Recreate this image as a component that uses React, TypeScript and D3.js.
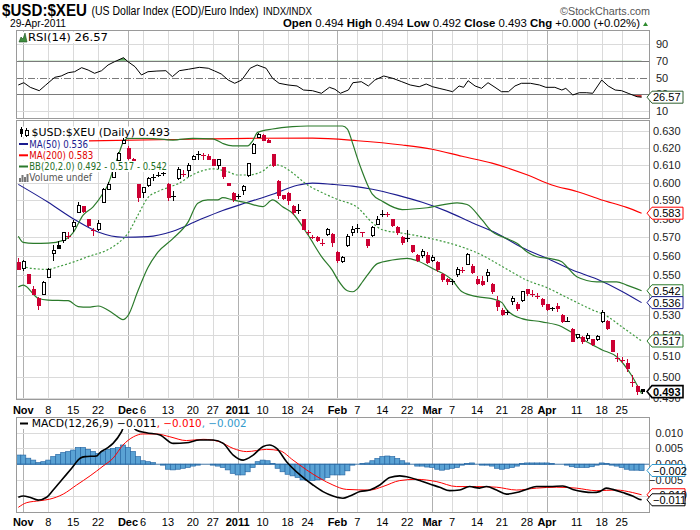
import * as d3 from 'd3'

type Pt = [number, number]

// ---- price bars, Oct 29 2010 .. Apr 29 2011 (one entry per trading day) ----
const priorClose = 0.5578

const opens = [
  0.5565, 0.5535, 0.5501, 0.5428, 0.5382, 0.5402, 0.5487, 0.5614, 0.5654, 0.5681,
  0.5707, 0.5757, 0.5835, 0.5866, 0.5793, 0.5737, 0.5744, 0.589, 0.5964, 0.6028,
  0.6128, 0.6226, 0.6197, 0.613, 0.5987, 0.5944, 0.5985, 0.6028, 0.604, 0.605,
  0.5992, 0.5925, 0.6026, 0.6052, 0.6067, 0.6133, 0.616, 0.6162, 0.615, 0.613,
  0.61, 0.6084, 0.5996, 0.5939, 0.592, 0.5955, 0.6039, 0.6168, 0.6261, 0.6274,
  0.6245, 0.6158, 0.6005, 0.5925, 0.5939, 0.5866, 0.5845, 0.5793, 0.5727, 0.5702,
  0.5698, 0.567, 0.5715, 0.5715, 0.5618, 0.557, 0.5655, 0.5725, 0.5745, 0.5728,
  0.5685, 0.5708, 0.577, 0.5826, 0.583, 0.5793, 0.5752, 0.57, 0.5695, 0.5655,
  0.5605, 0.5602, 0.5605, 0.5575, 0.5565, 0.5501, 0.5476, 0.547, 0.5506, 0.5528,
  0.5558, 0.5547, 0.5479, 0.5467, 0.5496, 0.5454, 0.5365, 0.532, 0.531, 0.5365,
  0.5353, 0.537, 0.5424, 0.5403, 0.5395, 0.5377, 0.535, 0.533, 0.534, 0.5298,
  0.5268, 0.5225, 0.5188, 0.5188, 0.5184, 0.5175, 0.5179, 0.5264, 0.5264, 0.5172,
  0.5088, 0.5081, 0.506, 0.4975, 0.4953, 0.494,
]
const highs = [
  0.5591, 0.5579, 0.5506, 0.5445, 0.539, 0.547, 0.5539, 0.5659, 0.5677, 0.573,
  0.5726, 0.5793, 0.589, 0.587, 0.5796, 0.5748, 0.5793, 0.5968, 0.6005, 0.6072,
  0.6177, 0.6255, 0.621, 0.614, 0.5992, 0.5977, 0.6032, 0.6049, 0.606, 0.6065,
  0.5998, 0.5955, 0.6091, 0.6072, 0.6113, 0.6158, 0.618, 0.6167, 0.6162, 0.6135,
  0.6137, 0.609, 0.6, 0.5945, 0.5935, 0.5987, 0.611, 0.6226, 0.6285, 0.628,
  0.6252, 0.6162, 0.6014, 0.5932, 0.5947, 0.5873, 0.5878, 0.5798, 0.574, 0.5712,
  0.5705, 0.569, 0.575, 0.572, 0.5625, 0.56, 0.5715, 0.576, 0.5772, 0.573,
  0.569, 0.576, 0.5815, 0.5848, 0.5838, 0.58, 0.576, 0.5705, 0.574, 0.566,
  0.561, 0.5635, 0.562, 0.5603, 0.5574, 0.551, 0.5485, 0.5478, 0.5544, 0.554,
  0.5614, 0.556, 0.5495, 0.5495, 0.553, 0.546, 0.5395, 0.5335, 0.5325, 0.5395,
  0.5362, 0.542, 0.543, 0.5425, 0.541, 0.5385, 0.5355, 0.534, 0.536, 0.5305,
  0.529, 0.5234, 0.5205, 0.5195, 0.521, 0.518, 0.52, 0.5325, 0.5275, 0.5175,
  0.511, 0.5092, 0.5085, 0.5008, 0.496, 0.494,
]
const lows = [
  0.553, 0.5524, 0.5454, 0.5399, 0.5323, 0.5399, 0.5484, 0.5574, 0.5637, 0.5668,
  0.569, 0.573, 0.583, 0.583, 0.5757, 0.5708, 0.5735, 0.5885, 0.5959, 0.6024,
  0.6123, 0.622, 0.6131, 0.608, 0.5894, 0.5916, 0.5973, 0.6009, 0.603, 0.604,
  0.5897, 0.5897, 0.6017, 0.6033, 0.6033, 0.613, 0.613, 0.613, 0.6128, 0.6093,
  0.608, 0.602, 0.598, 0.589, 0.591, 0.5933, 0.6033, 0.6162, 0.6255, 0.624,
  0.6226, 0.609, 0.5911, 0.5905, 0.5875, 0.582, 0.5825, 0.5738, 0.5712, 0.569,
  0.5675, 0.5655, 0.5705, 0.565, 0.5565, 0.5562, 0.565, 0.5706, 0.5722, 0.57,
  0.5645, 0.57, 0.5765, 0.5808, 0.581, 0.5755, 0.5712, 0.566, 0.5676, 0.5615,
  0.557, 0.5591, 0.556, 0.557, 0.5518, 0.5465, 0.545, 0.545, 0.549, 0.551,
  0.5552, 0.5505, 0.545, 0.5445, 0.5465, 0.5405, 0.532, 0.5295, 0.53, 0.535,
  0.532, 0.5365, 0.5395, 0.539, 0.538, 0.534, 0.532, 0.5318, 0.5315, 0.526,
  0.5265, 0.5165, 0.518, 0.5155, 0.517, 0.5145, 0.517, 0.5258, 0.5225, 0.5115,
  0.507, 0.5065, 0.502, 0.495, 0.4915, 0.492,
]
const closes = [
  0.5532, 0.557, 0.5459, 0.5402, 0.5348, 0.5462, 0.5532, 0.5627, 0.5641, 0.5724,
  0.5704, 0.5781, 0.5875, 0.5842, 0.5762, 0.5735, 0.5775, 0.5963, 0.5991, 0.6062,
  0.6167, 0.6245, 0.614, 0.609, 0.5916, 0.5971, 0.6025, 0.603, 0.6045, 0.6055,
  0.5914, 0.593, 0.6077, 0.605, 0.61, 0.6148, 0.6162, 0.6159, 0.6133, 0.61,
  0.6134, 0.6033, 0.5983, 0.5905, 0.5925, 0.5978, 0.6106, 0.622, 0.6279, 0.6245,
  0.6232, 0.6096, 0.5926, 0.5913, 0.5899, 0.5835, 0.585, 0.5744, 0.5725, 0.57,
  0.5682, 0.5667, 0.5742, 0.5672, 0.5574, 0.5593, 0.5706, 0.5743, 0.575, 0.5726,
  0.5655, 0.5753, 0.5793, 0.583, 0.5826, 0.5765, 0.5726, 0.5672, 0.5698, 0.5626,
  0.5579, 0.5623, 0.5566, 0.5593, 0.5527, 0.5476, 0.5467, 0.5472, 0.5532, 0.5524,
  0.5609, 0.5516, 0.5459, 0.5451, 0.5513, 0.5415, 0.534, 0.5302, 0.5313, 0.5382,
  0.5331, 0.5415, 0.5404, 0.5402, 0.5392, 0.5352, 0.5325, 0.5334, 0.5332, 0.5264,
  0.527, 0.517, 0.5201, 0.5168, 0.5196, 0.5151, 0.5191, 0.5309, 0.5232, 0.5119,
  0.5086, 0.5078, 0.5036, 0.4972, 0.4929, 0.493,
]

// ---- overlays: [bar index, value] ----
const ma50: Pt[] = [
  [0, 0.599], [6, 0.589], [11, 0.58], [16, 0.5728], [21, 0.57], [26, 0.5703], [31, 0.5732],
  [36, 0.579], [41, 0.5845], [46, 0.589], [51, 0.5935], [56, 0.5985], [59, 0.5997], [63, 0.599],
  [67, 0.598], [71, 0.5963], [76, 0.593], [81, 0.589], [86, 0.584], [91, 0.5778], [96, 0.572],
  [101, 0.5645], [106, 0.5588], [111, 0.5528], [116, 0.548], [121, 0.5418], [125, 0.536],
]
const ma200: Pt[] = [
  [14, 0.624], [31, 0.6248], [46, 0.6255], [59, 0.6256], [68, 0.6241], [77, 0.6216], [83, 0.6191],
  [89, 0.615], [95, 0.6111], [102, 0.6044], [107, 0.5987], [112, 0.595], [117, 0.5903],
  [122, 0.5862], [125, 0.583],
]
const bbUpper: Pt[] = [
  [0, 0.5705], [1, 0.5672], [3, 0.5667], [6, 0.5668], [9, 0.5683], [11, 0.5725], [13, 0.582],
  [15, 0.5865], [17, 0.594], [18, 0.599], [19, 0.607], [20, 0.615], [21, 0.623], [22, 0.6255],
  [26, 0.6255], [31, 0.6245], [35, 0.6255], [39, 0.6252], [41, 0.6225], [43, 0.6211], [46, 0.6211],
  [47, 0.624], [48, 0.629], [51, 0.631], [55, 0.6324], [58, 0.6328], [65, 0.6328], [66, 0.631],
  [67, 0.623], [68, 0.614], [69, 0.606], [70, 0.599], [71, 0.5935], [73, 0.5896], [77, 0.585],
  [82, 0.586], [88, 0.5887], [90, 0.5878], [93, 0.5793], [95, 0.573], [97, 0.5703], [100, 0.5667],
  [102, 0.5623], [104, 0.5596], [107, 0.5585], [109, 0.557], [110, 0.5544], [112, 0.5492],
  [116, 0.5466], [120, 0.5466], [122, 0.5449], [125, 0.542],
]
const bbMiddle: Pt[] = [
  [0, 0.5555], [1, 0.5545], [4, 0.5532], [6, 0.553], [8, 0.5544], [11, 0.5568], [14, 0.5597],
  [18, 0.5634], [20, 0.5668], [22, 0.5721], [24, 0.582], [26, 0.5916], [28, 0.595], [30, 0.5972],
  [32, 0.5993], [35, 0.6045], [39, 0.6078], [42, 0.6062], [44, 0.6043], [46, 0.6043], [49, 0.6065],
  [51, 0.6104], [53, 0.6092], [55, 0.6055], [58, 0.5987], [61, 0.5943], [64, 0.5906], [68, 0.5862],
  [71, 0.5778], [73, 0.574], [77, 0.5722], [82, 0.5697], [88, 0.5656], [90, 0.5638], [92, 0.5617],
  [97, 0.5546], [102, 0.5474], [106, 0.5436], [110, 0.5386], [115, 0.5325], [118, 0.5293],
  [121, 0.524], [125, 0.517],
]
const bbLower: Pt[] = [
  [0, 0.544], [1, 0.5449], [4, 0.5382], [6, 0.5373], [10, 0.537], [12, 0.534], [14, 0.5337],
  [16, 0.5343], [19, 0.5306], [21, 0.5275], [22, 0.5295], [24, 0.542], [26, 0.554], [28, 0.562],
  [31, 0.5692], [34, 0.578], [36, 0.5885], [38, 0.5903], [40, 0.5903], [41, 0.5916], [43, 0.5903],
  [46, 0.5885], [49, 0.5866], [51, 0.5903], [53, 0.5866], [55, 0.583], [58, 0.5716], [61, 0.559],
  [63, 0.5525], [64, 0.548], [66, 0.542], [67, 0.5415], [68, 0.543], [69, 0.5465], [70, 0.55],
  [72, 0.556], [75, 0.5579], [78, 0.5588], [80, 0.5575], [83, 0.5536], [87, 0.5475], [89, 0.5415],
  [92, 0.539], [95, 0.538], [97, 0.536], [98, 0.5323], [101, 0.528], [105, 0.5264], [109, 0.524],
  [111, 0.5212], [114, 0.5166], [117, 0.5128], [120, 0.5094], [123, 0.5005], [125, 0.492],
]

const rsi14: Pt[] = [
  [0, 41.1], [1.1, 43.8], [2.4, 38.3], [4.2, 34.3], [5.5, 41], [7.3, 50.2], [8.6, 51.8], [10, 55.7],
  [11.3, 56.9], [12.7, 61.7], [14, 58.9], [15.3, 55], [16.7, 58.1], [18, 64.9], [19.3, 68.8],
  [21.1, 73.6], [22, 68.8], [23.4, 62.9], [24.7, 53], [26, 56.9], [27.8, 57.7], [29.6, 58.1],
  [30.9, 51], [32.3, 58.1], [34.1, 59.8], [36.3, 62.1], [38.1, 61], [39.4, 57.7], [40.7, 54.2],
  [42.1, 47], [43.4, 43.1], [44.8, 47], [46.5, 61], [47.9, 64.9], [49.7, 61], [51, 49], [52.3, 43.1],
  [54.1, 41.1], [55.9, 39.9], [57.2, 35.1], [59, 34.3], [60.8, 31.2], [62.4, 38.3], [63.5, 36],
  [64.6, 31.2], [66.2, 35.1], [67.1, 43.8], [68.8, 45], [70.2, 39.9], [71.5, 47], [73.3, 51.8],
  [75.1, 49], [76.9, 45], [78.6, 41.1], [80.4, 39], [81.8, 42.3], [83.1, 39], [84.4, 37.1],
  [85.8, 35.1], [87.1, 33.1], [88.4, 39.9], [89.3, 38.3], [90.2, 46.2], [91.6, 39.9], [92.9, 37.1],
  [94.2, 43.8], [95.6, 38.3], [96.9, 33.1], [98.3, 33.1], [99.6, 39.9], [100.9, 43.1], [102.7, 43.1],
  [104.5, 41.1], [105.8, 38.3], [107.6, 38.3], [109, 35.1], [109.8, 37.1], [111.2, 29.2],
  [112.5, 31.9], [113.9, 31.9], [115.2, 31.2], [117, 47], [118.3, 39.9], [119.7, 35.1], [121, 34.3],
  [122.3, 31.2], [124.1, 27.1], [125, 26.57],
]

const macdLine: Pt[] = [
  [0, -0.0105], [1, -0.0101], [2.3, -0.0105], [4, -0.0114], [5.7, -0.0105], [7, -0.0082],
  [8.7, -0.005], [10.7, -0.0013], [12.4, 0.0019], [13.4, 0.0024], [15.7, 0.0026], [16.4, 0.0037],
  [17.7, 0.005], [19, 0.0066], [20.7, 0.0103], [21.6, 0.0132], [22.6, 0.0125], [23.7, 0.0108],
  [25.7, 0.01], [28.4, 0.0093], [31.1, 0.0066], [33.7, 0.0068], [36.4, 0.0077], [39.1, 0.0077],
  [41.1, 0.0066], [43.1, 0.0029], [45.1, 0.0013], [47.1, 0.0029], [49.1, 0.0056], [50.4, 0.0061],
  [51.8, 0.005], [53.8, 0.0008], [56.5, -0.0034], [59.1, -0.0066], [61.1, -0.0087], [63.1, -0.0101],
  [65.1, -0.0108], [66.5, -0.0101], [68.5, -0.0087], [70.5, -0.0082], [72.5, -0.0066],
  [74.5, -0.0042], [76.5, -0.0037], [78.5, -0.0042], [80.5, -0.0052], [82.5, -0.0063],
  [84.5, -0.0073], [86.5, -0.0084], [88.5, -0.0082], [90.5, -0.0071], [92.5, -0.0076],
  [93.9, -0.0071], [95.9, -0.0082], [97.9, -0.0095], [99.9, -0.009], [101.9, -0.008],
  [103.9, -0.0071], [106.6, -0.0071], [109.2, -0.0069], [111.2, -0.008], [113.2, -0.0087],
  [115.2, -0.009], [116.6, -0.0087], [117.9, -0.0076], [119.2, -0.008], [121.2, -0.009],
  [123.2, -0.0101], [124.5, -0.0111], [125, -0.0113],
]
const macdSignal: Pt[] = [
  [0, -0.0137], [1.7, -0.0122], [4.3, -0.0116], [6.3, -0.0111], [9, -0.0095], [11.7, -0.0066],
  [14.4, -0.0037], [17, -0.0006], [19, 0.0019], [21, 0.0061], [23.1, 0.0087], [25, 0.0096],
  [27.7, 0.0096], [30.4, 0.0087], [33.7, 0.0075], [37.1, 0.0079], [40.4, 0.0071], [43.1, 0.005],
  [45.8, 0.004], [49.8, 0.0047], [52.4, 0.0043], [55.1, 0.0013], [57.8, -0.0018], [60.5, -0.0045],
  [63.1, -0.0066], [65.8, -0.008], [70.5, -0.0082], [73.1, -0.0071], [76.5, -0.0052],
  [79.8, -0.0048], [83.8, -0.0055], [87.9, -0.0071], [91.9, -0.0071], [95.9, -0.0073],
  [99.9, -0.0082], [103.9, -0.0076], [107.9, -0.0073], [111.9, -0.0076], [115.9, -0.0084],
  [119.9, -0.0082], [123.2, -0.009], [125, -0.0097],
]
const macdHist = [
  0.0029, 0.0029, 0.0019, 0.0013, 0.0005, 0.0008, 0.0013, 0.0024, 0.0031, 0.0037,
  0.004, 0.0045, 0.0053, 0.0053, 0.0047, 0.004, 0.0034, 0.004, 0.0047, 0.005,
  0.0053, 0.0061, 0.0053, 0.004, 0.0024, 0.0011, 0.0008, 0.0005, 0, -0.0003,
  -0.0016, -0.0018, -0.0016, -0.0013, -0.001, -0.0006, -0.0003, 0, 0, -0.0003,
  -0.0006, -0.001, -0.0018, -0.0029, -0.0034, -0.0034, -0.0024, -0.001, 0.0008, 0.0013,
  0.0011, 0.0002, -0.0013, -0.0024, -0.0032, -0.0037, -0.0042, -0.005, -0.0052, -0.0052,
  -0.005, -0.0048, -0.0042, -0.0034, -0.0034, -0.0034, -0.0021, -0.0003, 0, 0.0002,
  0.0004, 0.0011, 0.0018, 0.0024, 0.0026, 0.0024, 0.0018, 0.0011, 0.0004, 0,
  -0.0006, -0.0006, -0.0009, -0.001, -0.0016, -0.0019, -0.0016, -0.0013, -0.001, -0.0003,
  0.0002, 0.0004, 0, -0.0003, -0.0003, -0.0006, -0.0013, -0.0016, -0.0013, -0.001,
  -0.0006, 0.0002, 0.0004, 0.0004, 0.0004, 0.0004, 0.0004, 0.0002, 0, 0,
  -0.0003, -0.0008, -0.001, -0.001, -0.001, -0.0008, -0.0003, 0.0004, 0.0002, -0.0003,
  -0.0006, -0.001, -0.0016, -0.0019, -0.0019, -0.002,
]

// axis ticks: [bar index, label, month start]
const dateTicks: [number, string, boolean][] = [
  [1, 'Nov', true], [6, '8', false], [11, '15', false], [16, '22', false],
  [22, 'Dec', true], [25, '6', false], [30, '13', false], [35, '20', false], [39, '27', false],
  [44, '2011', true], [49, '10', false], [54, '18', false], [58, '24', false],
  [64, 'Feb', true], [68, '7', false], [73, '14', false], [78, '22', false],
  [83, 'Mar', true], [87, '7', false], [92, '14', false], [97, '21', false], [102, '28', false],
  [106, 'Apr', true], [112, '11', false], [117, '18', false], [121, '25', false],
]
const priceTicks = [0.49, 0.5, 0.51, 0.52, 0.53, 0.54, 0.55, 0.56, 0.57, 0.58, 0.59, 0.6, 0.61, 0.62, 0.63]
const rsiTicks = [10, 30, 50, 70, 90]
const macdTicks = [-0.01, -0.005, 0, 0.005, 0.01]

const LEFT = 16
const RIGHT = 650
const rsiPanel = { top: 30, bottom: 119 }
const mainPanel = { top: 120, bottom: 400 }
const macdPanel = { top: 417, bottom: 513 }

const RED = '#cc0033'
const GREEN = '#2b7a2b'
const NAVY = '#1c1c8f'
const AXIS_FONT = 'Liberation Sans, Arial, sans-serif'
const LEG_FONT = 'DejaVu Sans, Verdana, sans-serif'

const last = (a: Pt[]) => a[a.length - 1][1]
const f3 = d3.format('.3f')

function Tag({ y, text, color, bold, right = 683 }: { y: number; text: string; color: string; bold?: boolean; right?: number }) {
  const pts = [[647, y], [652, y - 6], [right, y - 6], [right, y + 6], [652, y + 6]]
  return (
    <g>
      <polygon points={pts.map(p => p.join(',')).join(' ')} fill="#fff" stroke={color} strokeWidth={bold ? 1.6 : 1} />
      <text x={653} y={y + 4} fontSize={11} fontFamily={AXIS_FONT} fontWeight={bold ? 700 : 400} fill="#000">{text}</text>
    </g>
  )
}

function LegendRow({ y, x0, width, text, color, icon }: { y: number; x0: number; width: number; text: string; color: string; icon: React.ReactNode }) {
  return (
    <g>
      <rect x={17} y={y - 5.5} width={x0 + width - 16} height={11} fill="#fff" />
      {icon}
      <text x={x0} y={y + 3.6} fontSize={10} fontFamily={LEG_FONT} fill={color} textLength={width} lengthAdjust="spacingAndGlyphs">{text}</text>
    </g>
  )
}

export default function App() {
  const x = d3.scaleLinear().domain([0, 125]).range([18.3, 641.6])
  const yP = d3.scaleLog().domain([0.63, 0.5]).range([130.7, 376.6])
  const yR = d3.scaleLinear().domain([30, 70]).range([94.3, 60.7])
  const yM = d3.scaleLinear().domain([0, 0.01]).range([464.2, 432.7])
  const px = (k: number) => Math.round(x(k)) + 0.5
  const hy = (v: number) => Math.round(v) + 0.5

  const priceLine = d3.line<Pt>().x(d => x(d[0])).y(d => yP(d[1])).curve(d3.curveMonotoneX)
  const rsiLine = d3.line<Pt>().x(d => x(d[0])).y(d => yR(d[1]))
  const macdPath = d3.line<Pt>().x(d => x(d[0])).y(d => yM(d[1])).curve(d3.curveMonotoneX)
  const rsiLow = d3.area<Pt>().x(d => x(d[0])).y0(yR(30)).y1(d => yR(d[1]))
  const rsiHigh = d3.area<Pt>().x(d => x(d[0])).y0(yR(70)).y1(d => yR(d[1]))

  const panels = [rsiPanel, mainPanel, macdPanel]
  const n = closes.length
  const lastClose = closes[n - 1]
  const chg = lastClose - closes[n - 2]
  const y30 = hy(yR(30))
  const y70 = hy(yR(70))

  const candles = closes.map((c, k) => {
    const o = opens[k]
    const prev = k ? closes[k - 1] : priorClose
    const col = c < prev ? RED : '#000'
    const xc = px(k)
    const yo = yP(o)
    const yc = yP(c)
    const top = Math.min(yo, yc)
    const bot = Math.max(yo, yc)
    let body
    if (bot - top < 1.2) {
      const ym = hy((top + bot) / 2)
      body = <line x1={xc - 2.5} x2={xc + 2.5} y1={ym} y2={ym} stroke={col} />
    } else {
      body = (
        <rect x={xc - 1.5} y={top} width={3} height={bot - top} fill={c > o ? '#fff' : col} stroke={col} strokeWidth={1} />
      )
    }
    return (
      <g key={k} shapeRendering="crispEdges">
        <line x1={xc} x2={xc} y1={yP(highs[k])} y2={yP(lows[k])} stroke={col} />
        {body}
      </g>
    )
  })

  const hist = macdHist.map((v, k) => {
    const y0 = yM(0)
    const y1 = yM(v)
    return <rect key={k} x={x(k) - 2.5} y={Math.min(y0, y1)} width={4.99} height={Math.abs(y1 - y0)} fill="#5aa2d4" stroke="#2a6aa6" strokeWidth={0.7} />
  })

  const W = RIGHT - LEFT

  return (
    <div style={{ position: 'absolute', left: 0, top: 0, background: '#fff' }}>
      <svg width={700} height={530} viewBox="0 0 700 530" style={{ display: 'block', background: '#fff' }}>
        <defs>
          <clipPath id="clipRsi"><rect x={LEFT} y={rsiPanel.top} width={W} height={rsiPanel.bottom - rsiPanel.top} /></clipPath>
          <clipPath id="clipMain"><rect x={LEFT} y={mainPanel.top} width={W} height={mainPanel.bottom - mainPanel.top} /></clipPath>
          <clipPath id="clipMacd"><rect x={LEFT} y={macdPanel.top} width={W} height={macdPanel.bottom - macdPanel.top} /></clipPath>
          <clipPath id="clipLow"><rect x={LEFT} y={y30 + 0.5} width={W} height={rsiPanel.bottom - y30} /></clipPath>
          <clipPath id="clipHigh"><rect x={LEFT} y={rsiPanel.top} width={W} height={y70 - 0.5 - rsiPanel.top} /></clipPath>
        </defs>

        {/* header */}
        <text x={2} y={15.5} fontSize={16} fontWeight={700} fontFamily={AXIS_FONT} textLength={85} lengthAdjust="spacingAndGlyphs">$USD:$XEU</text>
        <text x={91.5} y={15} fontSize={12} fontFamily={AXIS_FONT} textLength={167} lengthAdjust="spacingAndGlyphs">(US Dollar Index (EOD)/Euro Index)</text>
        <text x={263} y={15} fontSize={10} fontFamily={AXIS_FONT} textLength={49} lengthAdjust="spacingAndGlyphs">INDX/INDX</text>
        <text x={560} y={14.5} fontSize={10.5} fontFamily={AXIS_FONT} fill="#555" textLength={90} lengthAdjust="spacingAndGlyphs">©StockCharts.com</text>
        <text x={10} y={27} fontSize={10.5} fontFamily={AXIS_FONT} textLength={56} lengthAdjust="spacingAndGlyphs">29-Apr-2011</text>
        <text x={283} y={27} fontSize={11} fontFamily={AXIS_FONT} textLength={357} lengthAdjust="spacingAndGlyphs">
          <tspan fontWeight={700}>Open</tspan> {f3(opens[n - 1])} <tspan fontWeight={700}>High</tspan> {f3(highs[n - 1])}{' '}
          <tspan fontWeight={700}>Low</tspan> {f3(lows[n - 1])} <tspan fontWeight={700}>Close</tspan> {f3(lastClose)}{' '}
          <tspan fontWeight={700}>Chg</tspan> {(chg >= 0 ? '+' : '') + f3(chg)} ({d3.format('+.2f')((chg / closes[n - 2]) * 100)}%)
        </text>
        <polygon points="643,26 648,26 645.5,22" fill="#2e8b2e" />

        {/* grid */}
        {panels.map((p, i) => (
          <g key={i} shapeRendering="crispEdges">
            {dateTicks.filter(t => !t[2]).map(t => (
              <line key={t[0]} x1={px(t[0])} x2={px(t[0])} y1={p.top} y2={p.bottom} stroke="#dadada" />
            ))}
            {dateTicks.filter(t => t[2]).map(t => (
              <line key={t[0]} x1={px(t[0])} x2={px(t[0])} y1={p.top} y2={p.bottom} stroke="#b0b0b0" />
            ))}
          </g>
        ))}
        <g shapeRendering="crispEdges">
          {priceTicks.map(v => (
            <line key={v} x1={LEFT} x2={RIGHT} y1={hy(yP(v))} y2={hy(yP(v))} stroke="#dadada" />
          ))}
          {macdTicks.map(v => (
            <line key={v} x1={LEFT} x2={RIGHT} y1={hy(yM(v))} y2={hy(yM(v))} stroke="#dadada" />
          ))}
          {[10, 90].map(v => (
            <line key={v} x1={LEFT} x2={RIGHT} y1={hy(yR(v))} y2={hy(yR(v))} stroke="#dadada" />
          ))}
        </g>

        {/* RSI */}
        <g clipPath="url(#clipRsi)">
          <path d={rsiLow(rsi14) ?? ''} fill="#d23c3c" clipPath="url(#clipLow)" />
          <path d={rsiHigh(rsi14) ?? ''} fill="#5caa5c" clipPath="url(#clipHigh)" />
          <g shapeRendering="crispEdges">
            <line x1={LEFT} x2={RIGHT} y1={y30} y2={y30} stroke="#7a7a7a" />
            <line x1={LEFT} x2={RIGHT} y1={y70} y2={y70} stroke="#7a7a7a" />
            <line x1={LEFT} x2={RIGHT} y1={hy(yR(50))} y2={hy(yR(50))} stroke="#7a7a7a" strokeDasharray="7,2,1,2" />
          </g>
          <path d={rsiLine(rsi14) ?? ''} fill="none" stroke="#000" strokeWidth={1} />
        </g>

        {/* price panel */}
        <g clipPath="url(#clipMain)">
          <path d={priceLine(ma200) ?? ''} fill="none" stroke="#ff0000" strokeWidth={1.1} />
          <path d={priceLine(ma50) ?? ''} fill="none" stroke={NAVY} strokeWidth={1.1} />
          <path d={priceLine(bbUpper) ?? ''} fill="none" stroke={GREEN} strokeWidth={1.2} />
          <path d={priceLine(bbLower) ?? ''} fill="none" stroke={GREEN} strokeWidth={1.2} />
          <path d={priceLine(bbMiddle) ?? ''} fill="none" stroke="#3f9a3f" strokeWidth={1.2} strokeDasharray="2,2" />
          {candles}
        </g>

        {/* MACD */}
        <g clipPath="url(#clipMacd)">
          {hist}
          <line x1={LEFT} x2={RIGHT} y1={yM(0)} y2={yM(0)} stroke="#2a6aa6" strokeWidth={0.8} />
          <path d={macdPath(macdSignal) ?? ''} fill="none" stroke="#ff0000" strokeWidth={1} />
          <path d={macdPath(macdLine) ?? ''} fill="none" stroke="#000" strokeWidth={1.6} />
        </g>

        {/* legends */}
        <g>
          <rect x={17} y={32} width={94} height={11} fill="#fff" />
          <polygon points="19,42 21,37 23,39 25,33 27,42" fill="#3f8f3f" stroke="#1f4f1f" strokeWidth={0.6} />
          <text x={28} y={40.8} fontSize={10} fontFamily={LEG_FONT} textLength={80} lengthAdjust="spacingAndGlyphs">RSI(14) {last(rsi14).toFixed(2)}</text>
        </g>
        <LegendRow y={132} x0={31.5} width={138.5} color="#000" text={`$USD:$XEU (Daily) ${f3(lastClose)}`}
          icon={<g shapeRendering="crispEdges"><line x1={21.5} x2={21.5} y1={127} y2={137} stroke="#000" /><rect x={20} y={129} width={3} height={5} fill="#000" /><line x1={26.5} x2={26.5} y1={128} y2={137} stroke="#000" /><rect x={25} y={130} width={3} height={5} fill="#fff" stroke="#000" /></g>} />
        <LegendRow y={144} x0={29.3} width={58.7} color={NAVY} text={`MA(50) ${f3(last(ma50))}`}
          icon={<line x1={19} x2={28} y1={144} y2={144} stroke={NAVY} strokeWidth={2} />} />
        <LegendRow y={155.3} x0={29.3} width={64} color="#e00000" text={`MA(200) ${f3(last(ma200))}`}
          icon={<line x1={19} x2={28} y1={155.3} y2={155.3} stroke="#ff0000" strokeWidth={2} />} />
        <LegendRow y={166.5} x0={29.3} width={137.7} color="#1f6f1f" text={`BB(20,2.0) ${f3(last(bbLower))} - ${f3(last(bbMiddle))} - ${f3(last(bbUpper))}`}
          icon={<line x1={19} x2={28} y1={166.5} y2={166.5} stroke={GREEN} strokeWidth={2} />} />
        <LegendRow y={177.5} x0={29.3} width={62.7} color="#555" text="Volume undef"
          icon={<g fill="#777">{[[19, 4], [21.5, 7], [24, 5], [26.5, 8]].map(([bx, bh]) => <rect key={bx} x={bx} y={182 - bh} width={2} height={bh} />)}</g>} />
        <g>
          <rect x={17} y={418} width={232} height={11} fill="#fff" />
          <line x1={20} x2={28} y1={423.5} y2={423.5} stroke="#000" strokeWidth={2} />
          <text x={31.7} y={427.2} fontSize={10} fontFamily={LEG_FONT} textLength={125} lengthAdjust="spacingAndGlyphs">MACD(12,26,9) {f3(last(macdLine))}</text>
          <text x={156.7} y={427.2} fontSize={10} fontFamily={LEG_FONT} fill="#ff0000" textLength={45} lengthAdjust="spacingAndGlyphs">, {f3(last(macdSignal))}</text>
          <text x={201.7} y={427.2} fontSize={10} fontFamily={LEG_FONT} fill="#3399cc" textLength={45} lengthAdjust="spacingAndGlyphs">, {f3(macdHist[n - 1])}</text>
        </g>

        {/* panel frames */}
        <g fill="none" stroke="#9a9a9a" shapeRendering="crispEdges">
          {panels.map((p, i) => (
            <rect key={i} x={LEFT + 0.5} y={p.top + 0.5} width={W - 1} height={p.bottom - p.top - 1} />
          ))}
        </g>

        {/* date axes */}
        {[413.5, 525.5].map(by => (
          <g key={by} fontFamily={AXIS_FONT} fontSize={11} textAnchor="middle" fill="#000">
            {dateTicks.map(t => (
              <text key={t[0]} x={x(t[0])} y={by} fontWeight={t[2] ? 700 : 400}>{t[1]}</text>
            ))}
          </g>
        ))}

        {/* value axes */}
        <g fontFamily={AXIS_FONT} fontSize={11} fill="#222">
          {rsiTicks.map(v => <text key={v} x={656} y={yR(v) + 4}>{v}</text>)}
          {priceTicks.map(v => <text key={v} x={653} y={yP(v) + 4}>{f3(v)}</text>)}
          {macdTicks.map(v => <text key={v} x={683} y={yM(v) + 4} textAnchor="end">{f3(v)}</text>)}
        </g>

        {/* last-value tags */}
        <Tag y={yR(last(rsi14))} text={last(rsi14).toFixed(2)} color="#2f5f2f" />
        <Tag y={yP(last(ma200))} text={f3(last(ma200))} color="#ff0000" />
        <Tag y={yP(last(bbUpper))} text={f3(last(bbUpper))} color={GREEN} />
        <Tag y={yP(last(ma50))} text={f3(last(ma50))} color={NAVY} />
        <Tag y={yP(last(bbMiddle))} text={f3(last(bbMiddle))} color={GREEN} />
        <Tag y={yP(lastClose)} text={f3(lastClose)} color="#000" bold />
        <Tag y={yM(macdHist[n - 1])} text={f3(macdHist[n - 1])} color="#3399cc" right={685} />
        <Tag y={yM(last(macdSignal))} text={f3(last(macdSignal))} color="#ff0000" right={685} />
        <Tag y={yM(last(macdLine))} text={f3(last(macdLine))} color="#000" right={685} />
      </svg>
    </div>
  )
}
